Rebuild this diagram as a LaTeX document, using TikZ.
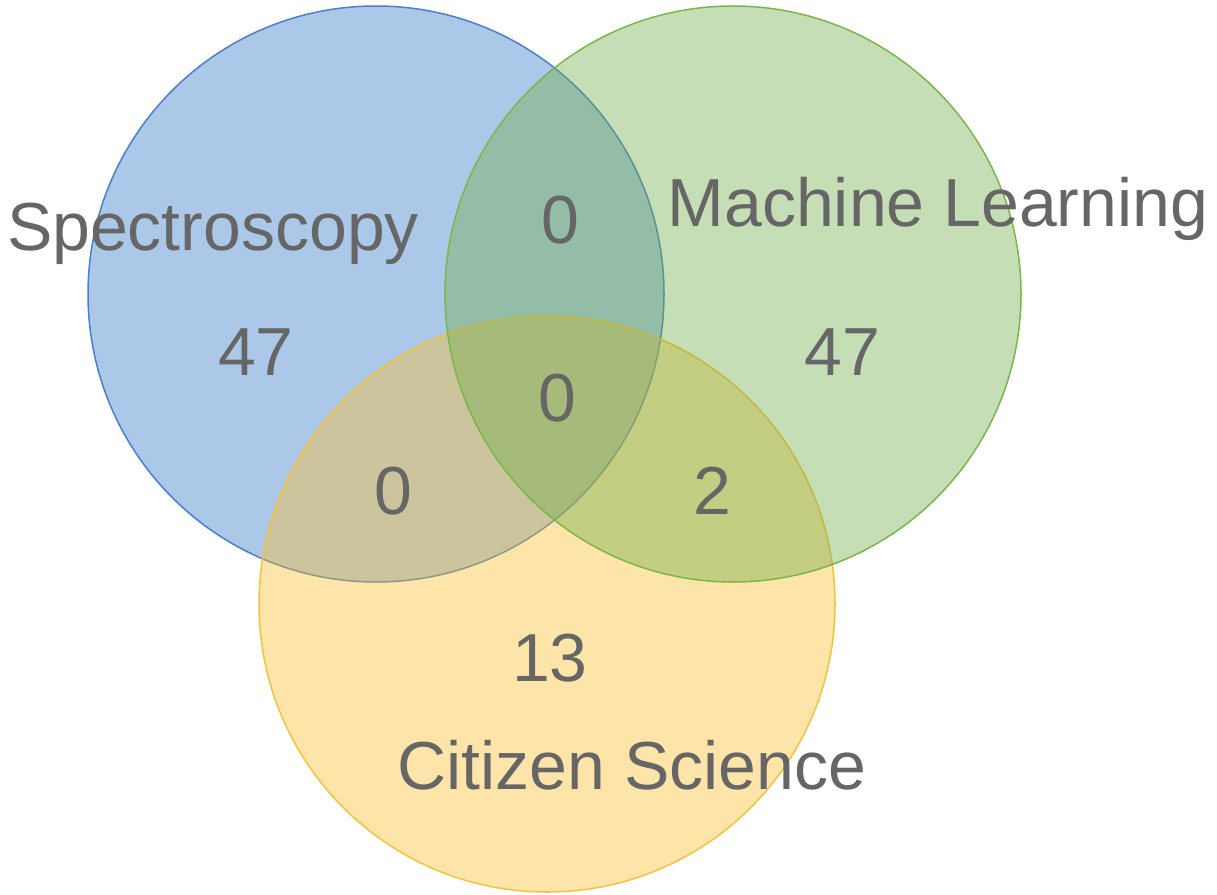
\documentclass[tikz,border=0pt]{standalone}
\usepackage{fontspec}
\setmainfont{Liberation Sans}
\definecolor{setblue}{RGB}{48,118,198}
\definecolor{setblueline}{RGB}{74,127,204}
\definecolor{setgreen}{RGB}{112,173,71}
\definecolor{setgreenline}{RGB}{122,182,72}
\definecolor{setgold}{RGB}{250,190,42}
\definecolor{setgoldline}{RGB}{245,194,60}
\definecolor{labelgray}{RGB}{102,102,102}
\tikzset{
  setcircle/.style={line width=1.5pt, fill opacity=0.4},
  vlabel/.style={text=labelgray, font=\fontsize{68}{70}\selectfont, anchor=base, inner sep=0pt}
}
\begin{document}
\begin{tikzpicture}[x=1pt,y=-1pt]
\useasboundingbox (0,0) rectangle (1217,894);
% the three sets, drawn in stacking order
\draw[setcircle, draw=setblueline, fill=setblue] (376,294) circle (288);
\draw[setcircle, draw=setgoldline, fill=setgold] (547,604) circle (288);
\draw[setcircle, draw=setgreenline, fill=setgreen] (733,294) circle (288);
% set names
\node[vlabel] (nspec) at (213,250) {Spectroscopy};
\node[vlabel] (nml) at (938,226) {Machine Learning};
\node[vlabel] (ncs) at (632,789) {Citizen Science};
% region counts
\node[vlabel] (cspec) at (256,375) {47};
\node[vlabel] (cml) at (842,375) {47};
\node[vlabel] (ccs) at (550,681) {13};
\node[vlabel] (cspecml) at (560,243) {0};
\node[vlabel] (call) at (557,421) {0};
\node[vlabel] (cspeccs) at (393,514) {0};
\node[vlabel] (cmlcs) at (712,514) {2};
\end{tikzpicture}
\end{document}
